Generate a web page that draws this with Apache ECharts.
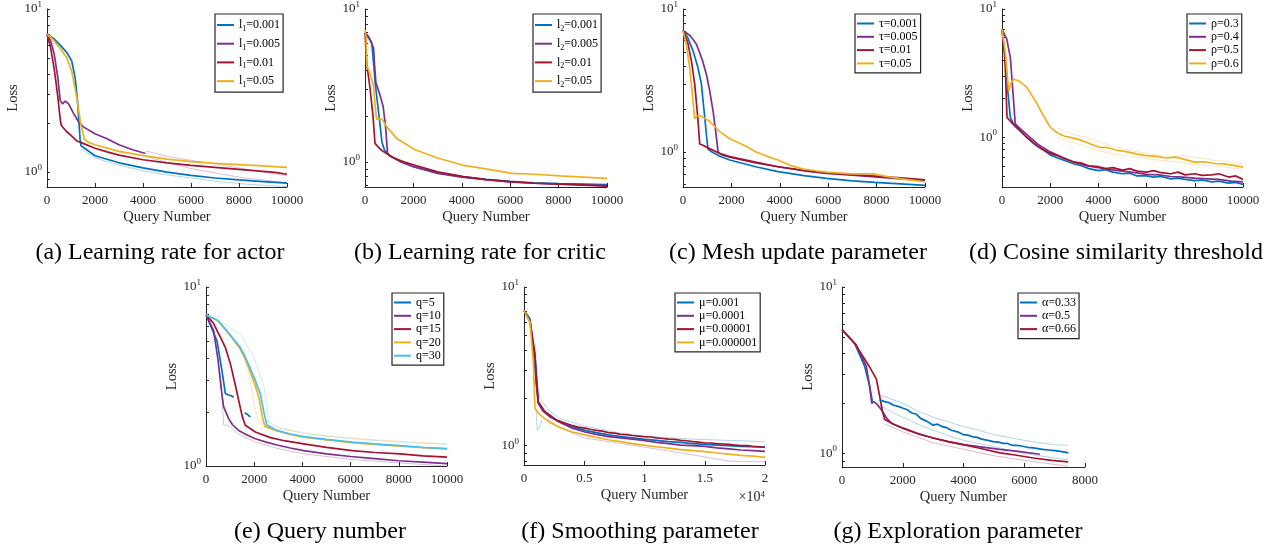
<!DOCTYPE html>
<html><head><meta charset="utf-8">
<script src="https://cdn.jsdelivr.net/npm/echarts@6/dist/echarts.min.js"></script>
<style>html,body{margin:0;padding:0;background:#fff}#c{width:1279px;height:548px}</style>
</head><body><div id="c"></div>
<script>
// ---------- DATA ----------
// (a) learning rate for actor
const aNames = ['l_1=0.001','l_1=0.005','l_1=0.01','l_1=0.05'];
const aBlue = [[0,7.0],[270,6.6],[550,6.0],[830,5.4],[1030,4.8],[1170,3.8],[1270,2.75],[1380,1.58],[1420,1.45],[2000,1.26],[3000,1.14],[4000,1.06],[5000,1.0],[6000,0.955],[7000,0.92],[8000,0.895],[9000,0.875],[10000,0.855]];
const aPurple = [[0,7.0],[150,6.4],[300,5.3],[450,3.8],[550,2.75],[650,2.62],[760,2.72],[900,2.62],[1100,2.3],[1300,2.05],[1500,1.9],[2000,1.72],[2500,1.6],[3000,1.47],[3500,1.38],[4100,1.30]];
const aRed = [[0,7.0],[150,5.8],[300,4.3],[450,2.9],[560,2.05],[600,1.93],[800,1.78],[1000,1.68],[1250,1.55],[1500,1.5],[2000,1.4],[2500,1.33],[3000,1.27],[4000,1.19],[5000,1.14],[6000,1.1],[7000,1.07],[8000,1.04],[9000,1.01],[9500,0.995],[10000,0.97]];
const aYellow = [[0,7.0],[250,6.5],[550,5.75],[830,5.0],[1030,4.15],[1240,2.87],[1400,2.0],[1550,1.6],[1700,1.53],[2000,1.47],[3000,1.34],[4000,1.26],[5000,1.2],[6000,1.16],[7000,1.13],[8000,1.11],[9000,1.09],[10000,1.07]];
const aBlueLo = [[1420,1.38],[2000,1.22],[3000,1.1],[4000,1.02],[5000,0.96],[6000,0.92],[7000,0.88],[8000,0.85],[9000,0.83],[10000,0.815]];
const aPurpleHi = [[4100,1.35],[5000,1.25],[6000,1.18],[7000,1.12],[8000,1.06],[9000,1.0],[10000,0.95]];
const aPurpleLo = [[4100,1.25],[6000,1.05],[8000,0.93],[10000,0.86]];
// (b) learning rate for critic
const bNames = ['l_2=0.001','l_2=0.005','l_2=0.01','l_2=0.05'];
const bBlue = [[0,7.0],[150,6.6],[280,6.0],[350,4.5],[420,3.3],[520,2.4],[620,1.75],[700,1.35],[800,1.2],[1000,1.1],[1500,1.0],[2000,0.93],[3000,0.85],[4000,0.8],[5000,0.77],[6000,0.745],[7000,0.73],[8000,0.72],[9000,0.715],[10000,0.71]];
const bPurple = [[0,7.0],[200,6.3],[350,5.6],[400,4.2],[450,3.3],[600,2.8],[750,2.3],[850,1.7],[930,1.15],[1000,1.1],[1500,1.0],[2000,0.93],[3000,0.84],[4000,0.795],[5000,0.765],[6000,0.74],[7000,0.725],[8000,0.715],[9000,0.71],[10000,0.70]];
const bRed = [[0,7.0],[70,4.4],[200,3.1],[330,2.0],[414,1.32],[550,1.25],[690,1.19],[900,1.13],[1200,1.06],[1600,1.0],[2070,0.95],[3000,0.86],[4070,0.8],[5000,0.765],[6070,0.74],[7000,0.725],[8070,0.715],[9000,0.705],[10000,0.695]];
const bYellow = [[0,7.3],[50,6.5],[70,4.3],[200,3.8],[345,3.17],[460,2.0],[483,1.9],[600,1.92],[700,1.9],[900,1.7],[1310,1.42],[2070,1.2],[3000,1.06],[4070,0.95],[5000,0.9],[6070,0.84],[7000,0.83],[8070,0.81],[9000,0.795],[10000,0.78]];
// (c) mesh update parameter
const cNames = ['τ=0.001','τ=0.005','τ=0.01','τ=0.05'];
const cBlue = [[0,7.07],[200,6.3],[414,5.1],[600,4.0],[760,3.0],[850,2.1],[900,1.75],[970,1.3],[1035,1.05],[1200,1.0],[1500,0.94],[1930,0.88],[3000,0.79],[3930,0.73],[5000,0.685],[5930,0.655],[7000,0.63],[7930,0.615],[9000,0.6],[10000,0.585]];
const cPurple = [[0,7.07],[300,6.5],[550,5.7],[800,4.4],[965,3.5],[1100,2.7],[1240,1.95],[1350,1.4],[1450,1.0],[1600,0.96],[1930,0.92],[3000,0.84],[3930,0.79],[5000,0.74],[5930,0.71],[7000,0.69],[7930,0.67],[9000,0.65],[10000,0.635]];
const cRed = [[0,7.07],[200,5.8],[350,4.3],[483,3.0],[620,1.66],[690,1.14],[800,1.12],[1035,1.07],[1500,0.98],[1930,0.93],[3000,0.85],[3930,0.79],[5000,0.745],[5930,0.715],[7000,0.695],[7930,0.68],[9000,0.66],[10000,0.64]];
const cYellow = [[0,7.07],[150,5.5],[276,3.9],[400,2.4],[483,1.71],[580,1.78],[690,1.8],[900,1.72],[1100,1.64],[1500,1.4],[1930,1.24],[2500,1.12],[3030,1.0],[3500,0.93],[3930,0.88],[4500,0.8],[4970,0.76],[5500,0.74],[5930,0.725],[7000,0.705],[7860,0.705],[8500,0.67],[9200,0.645],[10000,0.62]];
// (d) cosine similarity threshold
const dNames = ['ρ=0.3','ρ=0.4','ρ=0.5','ρ=0.6'];
const dBlue = [[0,6.98],[140,4.2],[250,2.2],[345,1.43],[500,1.25],[800,1.1],[1100,0.97],[1500,0.85],[2000,0.73],[2300,0.69],[2600,0.66],[3000,0.62],[3300,0.6],[3600,0.57],[4000,0.55],[4300,0.56],[4600,0.535],[5000,0.52],[5300,0.525],[5600,0.5],[6000,0.5],[6300,0.49],[6600,0.495],[7000,0.475],[7300,0.48],[7600,0.47],[8000,0.46],[8300,0.465],[8700,0.45],[9000,0.455],[9400,0.44],[9700,0.445],[10000,0.43]];
const dPurple = [[0,6.98],[200,5.8],[345,4.2],[450,2.3],[550,1.27],[800,1.15],[1100,1.02],[1500,0.88],[2000,0.77],[2500,0.7],[3000,0.64],[3500,0.6],[4000,0.58],[4500,0.56],[5000,0.545],[5500,0.53],[6000,0.515],[6500,0.51],[7000,0.495],[7500,0.49],[8000,0.48],[8500,0.475],[9000,0.47],[9500,0.455],[10000,0.45]];
const dRed = [[0,6.98],[100,4.5],[138,3.5],[207,1.43],[400,1.3],[700,1.15],[1035,1.0],[1300,0.9],[1600,0.82],[2000,0.75],[2300,0.72],[2600,0.68],[3000,0.64],[3300,0.63],[3600,0.6],[4000,0.59],[4300,0.57],[4600,0.58],[5000,0.555],[5300,0.57],[5600,0.545],[6000,0.535],[6300,0.55],[6600,0.53],[7000,0.52],[7300,0.535],[7600,0.51],[8000,0.52],[8300,0.505],[8700,0.51],[9000,0.52],[9400,0.49],[9700,0.5],[10000,0.47]];
const dYellow = [[0,6.98],[140,4.5],[276,2.3],[380,2.65],[483,2.85],[700,2.75],[1035,2.45],[1400,1.9],[1700,1.5],[2000,1.2],[2300,1.08],[2600,1.02],[2830,1.0],[3200,0.96],[3600,0.9],[4000,0.84],[4400,0.83],[4800,0.79],[5200,0.77],[5600,0.74],[6000,0.72],[6400,0.71],[6800,0.69],[7200,0.7],[7600,0.67],[8000,0.64],[8400,0.645],[8800,0.625],[9200,0.62],[9600,0.605],[10000,0.585]];
const dYellowHi = [[2300,1.18],[2800,1.08],[3400,1.0],[4000,0.93],[4600,0.85],[5200,0.8],[5800,0.76],[6400,0.73],[7000,0.71],[7600,0.72],[8200,0.69],[8800,0.66],[9400,0.65],[10000,0.62]];
const dYellowLo = [[2300,1.0],[2800,0.93],[3400,0.86],[4000,0.79],[4600,0.74],[5200,0.72],[5800,0.69],[6400,0.67],[7000,0.65],[7600,0.63],[8200,0.61],[8800,0.6],[9400,0.58],[10000,0.56]];
// (e) query number
const eNames = ['q=5','q=10','q=15','q=20','q=30'];
const eBlue = [[0,7.0],[456,5.0],[664,3.4],[800,2.55],[900,2.5],[1050,2.47],[1150,2.42]];
const eBlue2 = [[1600,1.98],[1700,1.95],[1840,1.88]];
const ePurple = [[0,7.0],[318,5.7],[500,3.9],[595,3.0],[680,2.4],[733,2.14],[940,1.84],[1100,1.7],[1355,1.58],[1700,1.49],[2047,1.42],[2500,1.36],[2946,1.31],[3500,1.26],[4050,1.22],[5000,1.17],[6000,1.13],[7000,1.1],[8000,1.07],[9000,1.05],[10000,1.03]];
const eRed = [[0,7.0],[300,6.3],[595,5.25],[800,4.6],[1010,3.73],[1200,2.9],[1355,2.33],[1500,1.9],[1630,1.69],[2047,1.55],[2670,1.44],[3300,1.38],[4050,1.33],[5000,1.27],[6060,1.22],[7000,1.19],[8060,1.17],[9000,1.14],[10000,1.12]];
const eYellow = [[0,7.0],[500,6.45],[870,5.65],[1100,5.15],[1425,4.5],[1650,3.9],[1840,3.35],[2050,2.8],[2200,2.4],[2350,1.85],[2450,1.66],[2946,1.57],[3500,1.5],[4050,1.45],[5000,1.4],[6060,1.35],[7000,1.32],[8060,1.29],[9000,1.265],[10000,1.245]];
const eCyan = [[0,7.0],[500,6.5],[870,5.7],[1100,5.2],[1425,4.6],[1650,4.0],[1840,3.5],[2050,3.0],[2255,2.53],[2400,2.0],[2530,1.69],[2946,1.58],[3500,1.51],[4050,1.46],[5000,1.41],[6060,1.36],[7000,1.33],[8060,1.30],[9000,1.27],[10000,1.25]];
const eCyanHi = [[0,7.0],[900,6.1],[1500,5.3],[2000,4.0],[2400,2.8],[2600,1.75],[3000,1.65],[4000,1.52],[6000,1.42],[8000,1.36],[10000,1.32]];
const eYellowHi = [[1500,4.4],[1800,3.2],[2000,2.2],[2200,1.75],[3000,1.62],[5000,1.47],[7000,1.4],[10000,1.33]];
const ePurpleLo = [[600,3.3],[733,1.7],[940,1.68],[1355,1.5],[2047,1.36],[3000,1.25],[4050,1.17],[6000,1.09],[8000,1.04],[10000,1.0]];
// (f) smoothing parameter
const fNames = ['μ=0.001','μ=0.0001','μ=0.00001','μ=0.000001'];
const fBlue = [[0,7.1],[500,6.3],[775,4.2],[1000,2.5],[1190,1.85],[1600,1.65],[2160,1.52],[3000,1.41],[4000,1.32],[5060,1.25],[6000,1.21],[7000,1.17],[8000,1.14],[9000,1.12],[9900,1.1],[11000,1.08],[12000,1.06],[13000,1.05],[14000,1.03],[15000,1.02],[16000,1.01],[17000,1.0],[18000,0.99],[19000,0.985],[20000,0.98]];
const fPurple = [[0,7.1],[500,6.0],[913,3.6],[1100,2.2],[1190,1.85],[1600,1.65],[2160,1.52],[3000,1.4],[4000,1.29],[5060,1.22],[6000,1.18],[7000,1.14],[8000,1.12],[9000,1.1],[9900,1.08],[11000,1.05],[12000,1.03],[13000,1.01],[14000,1.0],[15020,0.99],[16000,0.97],[17000,0.955],[18000,0.94],[19000,0.93],[20000,0.92]];
const fRed = [[0,7.1],[500,6.1],[900,3.8],[1100,2.3],[1190,1.89],[1700,1.65],[2710,1.45],[3500,1.38],[4000,1.34],[4500,1.31],[5060,1.29],[5500,1.27],[6000,1.25],[6500,1.235],[7000,1.21],[7500,1.2],[8000,1.18],[8500,1.175],[9000,1.16],[9500,1.15],[9900,1.14],[10500,1.135],[11000,1.12],[11500,1.11],[12000,1.1],[12500,1.095],[13000,1.08],[13500,1.075],[14000,1.06],[14500,1.055],[15020,1.04],[15500,1.04],[16000,1.03],[16500,1.025],[17000,1.02],[17500,1.01],[18000,1.0],[18500,1.0],[19000,0.99],[19500,0.985],[20000,0.975]];
const fYellow = [[0,7.1],[500,6.0],[775,3.3],[913,1.72],[1200,1.6],[1880,1.45],[3000,1.3],[4000,1.22],[5060,1.17],[6000,1.13],[7000,1.09],[8000,1.06],[9000,1.03],[9900,1.01],[11000,0.985],[12000,0.965],[13000,0.945],[14000,0.93],[15020,0.917],[16000,0.9],[17000,0.885],[18000,0.87],[19000,0.86],[20000,0.845]];
const fBlueHi = [[900,4.5],[1100,2.5],[1300,2.0],[2000,1.68],[3000,1.48],[5000,1.33],[8000,1.2],[10000,1.15],[14000,1.1],[17000,1.08],[20000,1.06]];
const fBlueLo = [[1000,1.7],[1100,1.25],[1250,1.3],[1500,1.45]];
const fPurpleLo = [[2000,1.4],[5000,1.12],[10000,0.98],[15000,0.85],[17000,0.8],[20000,0.79]];
// (g) exploration parameter
const gNames = ['α=0.33','α=0.5','α=0.66'];
const gBlue = [[0,5.56],[418,4.58],[747,3.33],[912,2.53],[1000,2.05]];
const gBlue2 = [[1240,2.1],[1400,2.05],[1550,2.02],[1700,1.95],[1850,1.92],[2011,1.87],[2150,1.83],[2300,1.75],[2450,1.72],[2600,1.62],[2800,1.56],[3000,1.48],[3150,1.5],[3300,1.45],[3450,1.43],[3600,1.38],[3800,1.35],[3989,1.3],[4150,1.29],[4300,1.26],[4450,1.25],[4600,1.22],[4800,1.2],[4978,1.18],[5150,1.17],[5300,1.15],[5450,1.15],[5600,1.12],[5750,1.12],[5900,1.11],[6100,1.09],[6297,1.08],[6450,1.07],[6600,1.06],[6800,1.05],[7000,1.04],[7200,1.03],[7450,1.01]];
const gPurple = [[0,5.56],[473,4.48],[802,3.33],[900,2.6],[980,2.0],[1050,2.05],[1150,1.98],[1297,1.83],[1450,1.65],[1626,1.52],[2000,1.42],[2560,1.3],[3000,1.24],[3500,1.18],[3989,1.13],[4500,1.1],[5198,1.06],[5800,1.03],[6516,0.99]];
const gRed = [[0,5.56],[418,4.58],[700,3.8],[912,3.3],[1132,2.8],[1242,2.2],[1330,1.8],[1407,1.6],[1700,1.5],[2011,1.42],[2500,1.32],[3000,1.24],[3500,1.18],[3989,1.13],[4500,1.08],[5198,1.01],[5700,0.98],[6297,0.94],[6900,0.91],[7450,0.89]];
const gBlueHi = [[1240,2.25],[1700,2.1],[2011,2.0],[2500,1.8],[3000,1.65],[3500,1.55],[4000,1.45],[4500,1.38],[5000,1.3],[5500,1.25],[6000,1.2],[6500,1.16],[7000,1.13],[7450,1.12]];
const gBlueLo = [[1240,1.95],[1700,1.75],[2011,1.65],[2500,1.5],[3000,1.38],[3500,1.28],[4000,1.2],[5000,1.1],[6000,1.0],[7000,0.94],[7450,0.92]];
const gRedLo = [[1407,1.5],[2000,1.35],[3000,1.16],[4000,1.06],[5000,0.97],[6000,0.91],[7000,0.86],[7450,0.84]];

const captions = ['(a) Learning rate for actor','(b) Learning rate for critic','(c) Mesh update parameter','(d) Cosine similarity threshold','(e) Query number','(f) Smoothing parameter','(g) Exploration parameter'];
const fXTickLabels = ['0','0.5','1','1.5','2'];

// ---------- STYLE / LAYOUT ----------
const C = {blue:'#0072BD', purple:'#7E2F8E', red:'#A2142F', yellow:'#EDB120', cyan:'#4DBEEE'};
const FONT = 'Liberation Serif';
const AX = '#262626';

const panels = [
 {g:{left:47,top:7,width:240,height:180}, xMax:10000, xInt:2000, yMin:0.81,
  main:[[aNames[0],aBlue,C.blue],[aNames[1],aPurple,C.purple],[aNames[2],aRed,C.red],[aNames[3],aYellow,C.yellow]],
  bands:[[aBlueLo,C.blue],[aPurpleHi,C.purple],[aPurpleLo,C.purple]],
  lg:{left:215,top:14,lh:16,gap:2.7}, cap:[160,253]},
 {g:{left:365,top:8,width:242,height:179}, xMax:10000, xInt:2000, yMin:0.685,
  main:[[bNames[0],bBlue,C.blue],[bNames[1],bPurple,C.purple],[bNames[2],bRed,C.red],[bNames[3],bYellow,C.yellow]],
  bands:[], lg:{left:533,top:14,lh:16,gap:2.7}, cap:[480,253]},
 {g:{left:683,top:8,width:242,height:179}, xMax:10000, xInt:2000, yMin:0.57,
  main:[[cNames[0],cBlue,C.blue],[cNames[1],cPurple,C.purple],[cNames[2],cRed,C.red],[cNames[3],cYellow,C.yellow]],
  bands:[], lg:{left:855,top:14,lh:13,gap:0.3}, cap:[798,253]},
 {g:{left:1002,top:8,width:241,height:179}, xMax:10000, xInt:2000, yMin:0.41,
  main:[[dNames[0],dBlue,C.blue],[dNames[1],dPurple,C.purple],[dNames[2],dRed,C.red],[dNames[3],dYellow,C.yellow]],
  bands:[[dYellowHi,C.yellow],[dYellowLo,C.yellow]], lg:{left:1187,top:14,lh:13,gap:0.3}, cap:[1116,253]},
 {g:{left:206,top:287,width:241,height:179}, xMax:10000, xInt:2000, yMin:1,
  main:[[eNames[0],eBlue,C.blue],[eNames[1],ePurple,C.purple],[eNames[2],eRed,C.red],[eNames[3],eYellow,C.yellow],[eNames[4],eCyan,C.cyan],[eNames[0],eBlue2,C.blue]],
  bands:[[eCyanHi,C.cyan],[eYellowHi,C.yellow],[ePurpleLo,C.purple]], lg:{left:392,top:293,lh:13,gap:0.3}, cap:[320,532]},
 {g:{left:524,top:287,width:241,height:178}, xMax:20000, xInt:5000, yMin:0.756, xLabels:fXTickLabels,
  main:[[fNames[0],fBlue,C.blue],[fNames[1],fPurple,C.purple],[fNames[2],fRed,C.red],[fNames[3],fYellow,C.yellow]],
  bands:[[fBlueHi,C.blue],[fBlueLo,C.blue],[fPurpleLo,C.purple]], lg:{left:675,top:293,lh:13,gap:0.3}, cap:[640,532]},
 {g:{left:842,top:287,width:243,height:180}, xMax:8000, xInt:2000, yMin:0.83,
  main:[[gNames[0],gBlue,C.blue],[gNames[1],gPurple,C.purple],[gNames[2],gRed,C.red],[gNames[0],gBlue2,C.blue]],
  bands:[[gBlueHi,C.blue],[gBlueLo,C.blue],[gRedLo,C.red]], lg:{left:1018,top:293,lh:13,gap:0.3}, cap:[958,532]}
];

const grid=[], xAxis=[], yAxis=[], series=[], legend=[], graphic=[];
const supRich = {b:{fontFamily:FONT,fontSize:13,color:AX,lineHeight:18}, sup:{fontFamily:FONT,fontSize:9,color:AX,lineHeight:9,verticalAlign:'top'}};

panels.forEach((p,i)=>{
  grid.push(Object.assign({containLabel:false}, p.g));
  const xl = p.xLabels;
  xAxis.push({type:'value', gridIndex:i, min:0, max:p.xMax, interval:p.xInt,
    name:'Query Number', nameLocation:'middle', nameGap:23,
    nameTextStyle:{fontFamily:FONT,fontSize:14.5,color:AX},
    axisLine:{show:true,onZero:false,lineStyle:{color:AX,width:1}},
    axisTick:{show:true,inside:true,length:4,lineStyle:{color:AX}},
    splitLine:{show:false},
    axisLabel:{fontFamily:FONT,fontSize:13,color:AX,margin:7,
      formatter: xl ? (v)=>xl[Math.round(v/p.xInt)] : (v)=>String(v)}});
  const tv=[];
  for(let k=1;k<=9;k++){ if(k/10>=p.yMin-1e-9) tv.push(k/10); }
  for(let k=1;k<=10;k++) tv.push(k);
  yAxis.push({type:'log', gridIndex:i, logBase:10, min:p.yMin, max:10,
    name:'Loss', nameLocation:'middle', nameGap:20,
    nameTextStyle:{fontFamily:FONT,fontSize:14.5,color:AX},
    axisLine:{show:true,lineStyle:{color:AX,width:1}},
    axisTick:{show:true,inside:true,length:3,lineStyle:{color:AX},customValues:tv},
    splitLine:{show:false}, minorTick:{show:false},
    axisLabel:{fontFamily:FONT,fontSize:13,color:AX,margin:5,customValues:[1,10],
      showMinLabel:true, showMaxLabel:true,
      formatter:(v)=>{const e=Math.log10(v); if(Math.abs(e-Math.round(e))>1e-6) return ''; return '{b|10}{sup|'+Math.round(e)+'}';},
      rich:supRich}});
  p.bands.forEach((b,j)=>{
    series.push({type:'line', name:'band'+i+'_'+j, xAxisIndex:i, yAxisIndex:i, data:b[0], symbol:'none', silent:true,
      lineStyle:{color:b[1], width:1, opacity:0.3}, z:1, animation:false});
  });
  p.main.forEach((m)=>{
    series.push({type:'line', name:m[0], xAxisIndex:i, yAxisIndex:i, data:m[1], symbol:'none', color:m[2],
      lineStyle:{color:m[2], width:1.7}, z:2, animation:false});
  });
  const names=[]; p.main.forEach(m=>{ if(names.indexOf(m[0])<0) names.push(m[0]); });
  legend.push({data:names, orient:'vertical', left:p.lg.left, top:p.lg.top, itemGap:p.lg.gap,
    itemWidth:17, itemHeight:2, icon:'rect', borderColor:AX, borderWidth:1.2, backgroundColor:'#fff',
    padding:[3,3,3,2], selectedMode:false,
    formatter:(n)=>n.replace(/_(\d)/,'{sub|$1}'),
    textStyle:{fontFamily:FONT,fontSize:12,color:'#000',lineHeight:p.lg.lh,
      rich:{sub:{fontFamily:FONT,fontSize:8,lineHeight:8,verticalAlign:'bottom',color:'#000'}}}});
  graphic.push({type:'text', x:p.cap[0], y:p.cap[1], silent:true,
    style:{text:captions[i], fill:'#000', font:'24px "Liberation Serif"', align:'center', verticalAlign:'middle'}});
});
graphic.push({type:'text', x:765, y:497, silent:true,
  style:{text:'×10{s|4}', fill:AX, font:'14px "Liberation Serif"', align:'right', verticalAlign:'middle',
    rich:{s:{fontFamily:FONT,fontSize:9,fill:AX,lineHeight:9,verticalAlign:'top'}}}});

const chart = echarts.init(document.getElementById('c'), null, {renderer:'canvas'});
chart.setOption({animation:false, backgroundColor:'#fff', grid, xAxis, yAxis, series, legend, graphic});
</script></body></html>
